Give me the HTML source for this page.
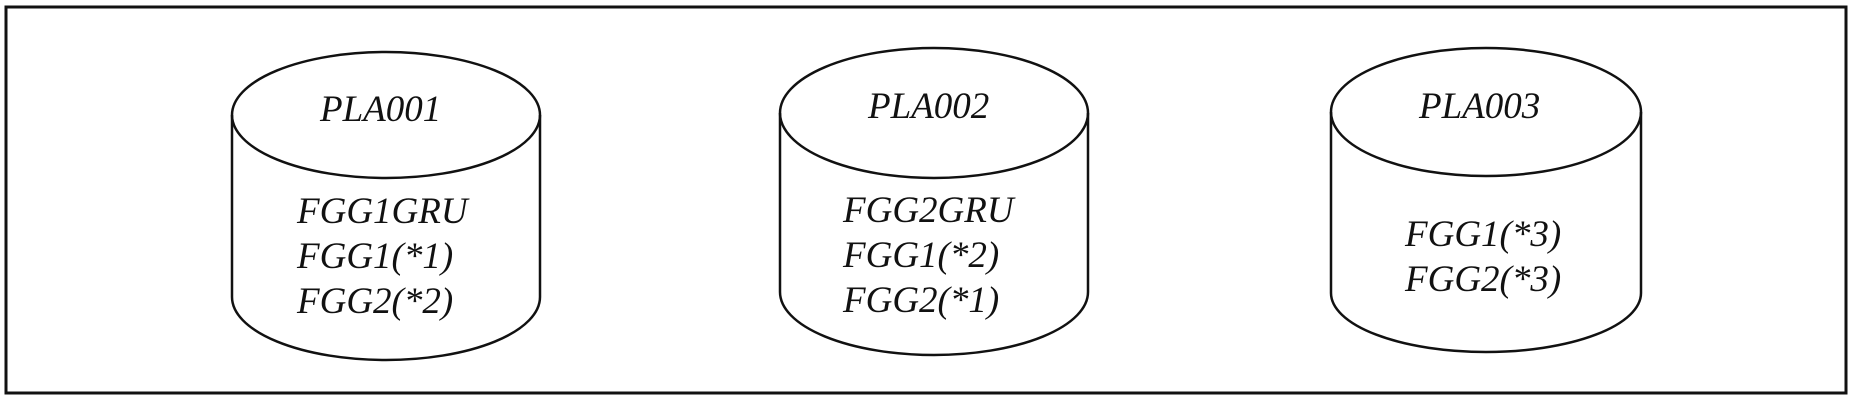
<!DOCTYPE html>
<html><head><style>
html,body{margin:0;padding:0;background:#fff;}
svg{display:block;}
text{font-family:"Liberation Serif",serif;font-style:italic;font-size:37px;fill:#111;}
</style></head><body>
<svg width="1854" height="400" viewBox="0 0 1854 400" xmlns="http://www.w3.org/2000/svg">
<rect x="6" y="7" width="1840" height="386" fill="#fff" stroke="#111" stroke-width="3"/>
<g fill="none" stroke="#111" stroke-width="2.5">
<ellipse cx="386" cy="115" rx="154" ry="63"/>
<path d="M232 115 V297 A154 63 0 0 0 540 297 V115"/>
<ellipse cx="934" cy="113" rx="154" ry="65"/>
<path d="M780 113 V292 A154 63 0 0 0 1088 292 V113"/>
<ellipse cx="1486" cy="112" rx="155" ry="64"/>
<path d="M1331 112 V293 A155 59 0 0 0 1641 293 V112"/>
</g>
<text x="320" y="121">PLA001</text>
<text x="297" y="223">FGG1GRU</text>
<text x="297" y="268">FGG1(*1)</text>
<text x="297" y="313">FGG2(*2)</text>
<text x="868" y="118">PLA002</text>
<text x="843" y="222">FGG2GRU</text>
<text x="843" y="267">FGG1(*2)</text>
<text x="843" y="312">FGG2(*1)</text>
<text x="1419" y="118">PLA003</text>
<text x="1405" y="246">FGG1(*3)</text>
<text x="1405" y="291">FGG2(*3)</text>
</svg>
</body></html>
